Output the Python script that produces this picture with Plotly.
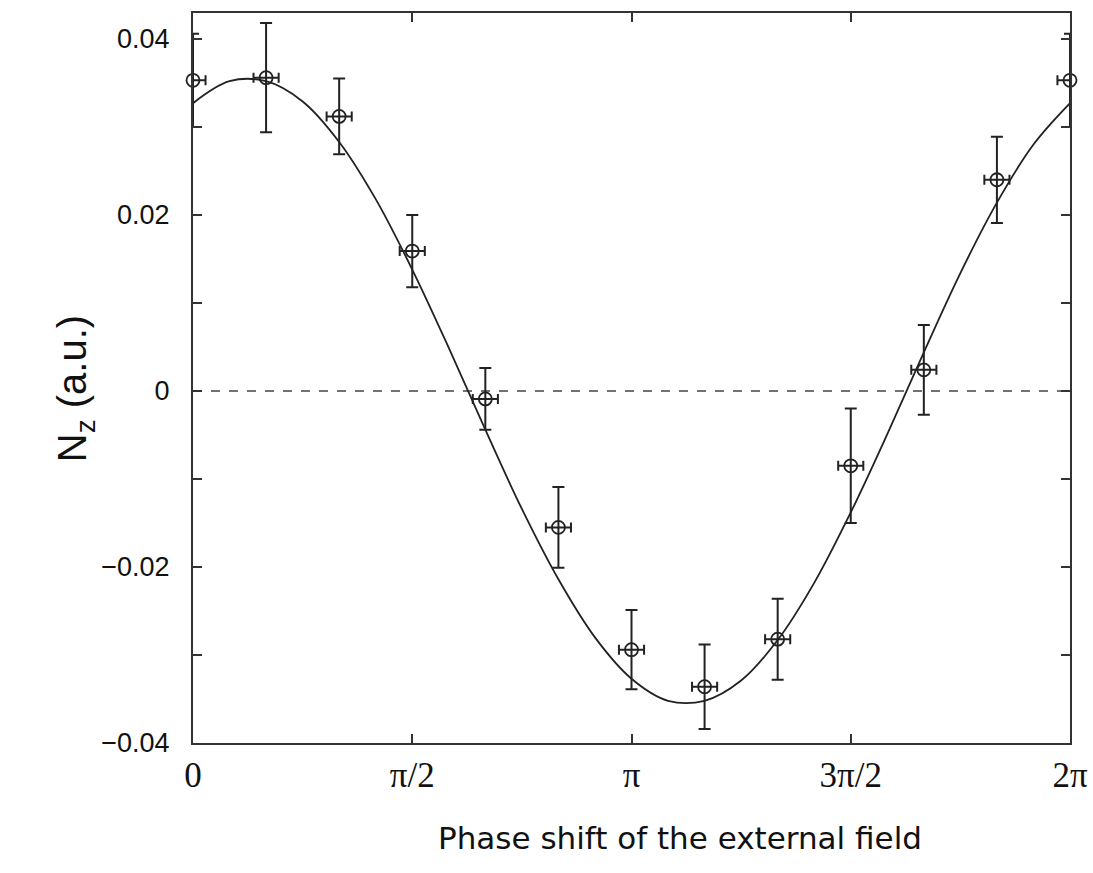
import math
import plotly.graph_objects as go

# ---- data ----
phase = [k * math.pi / 6 for k in range(13)]          # 0 .. 2π in π/6 steps
nz = [0.0353, 0.0356, 0.0312, 0.0159, -0.0009, -0.0155, -0.0294,
      -0.0336, -0.0282, -0.0085, 0.0024, 0.0240, 0.0353]
nz_err = [0.0053, 0.0062, 0.0043, 0.0041, 0.0035, 0.0046, 0.0045,
          0.0048, 0.0046, 0.0065, 0.0051, 0.0049, 0.0053]
phase_err = [0.09] * 13

# fit curve, every π/12
fit_x = [k * math.pi / 12 for k in range(25)]
fit_y = [0.0327, 0.0352, 0.0352, 0.0329, 0.0283, 0.0218, 0.0138, 0.0049,
         -0.0044, -0.0134, -0.0214, -0.0280, -0.0327, -0.0352, -0.0352,
         -0.0329, -0.0283, -0.0218, -0.0138, -0.0049, 0.0044, 0.0134,
         0.0214, 0.0280, 0.0327]

x_tickvals = [0, math.pi / 2, math.pi, 3 * math.pi / 2, 2 * math.pi]
x_ticktext = ["0", "π/2", "π", "3π/2", "2π"]
y_tickvals = [-0.04, -0.02, 0, 0.02, 0.04]
y_ticktext = ["−0.04", "−0.02", "0", "0.02", "0.04"]

fig = go.Figure()

# zero reference line
fig.add_trace(go.Scatter(
    x=[0, 2 * math.pi], y=[0, 0], mode="lines",
    line=dict(color="#444", width=1.5, dash="dash"),
    hoverinfo="skip", showlegend=False))

# fit curve
fig.add_trace(go.Scatter(
    x=fit_x, y=fit_y, mode="lines", line_shape="spline",
    line=dict(color="#222", width=1.8, smoothing=1.0), showlegend=False))

# data points with error bars
fig.add_trace(go.Scatter(
    x=phase, y=nz, mode="markers",
    marker=dict(symbol="circle-open", size=13, color="#222",
                line=dict(width=1.8, color="#222")),
    error_y=dict(type="data", array=nz_err, color="#222", thickness=2, width=6),
    error_x=dict(type="data", array=phase_err, color="#222", thickness=2, width=5),
    showlegend=False, cliponaxis=False))

axis_common = dict(showline=True, linecolor="#333", linewidth=2, mirror="ticks",
                   ticks="inside", ticklen=9, tickwidth=1.5, tickcolor="#333",
                   showgrid=False, zeroline=False, automargin=False)

fig.update_xaxes(range=[0, 2 * math.pi], tickvals=x_tickvals, ticktext=x_ticktext,
                 tickfont=dict(family="Liberation Serif", size=35, color="#111"),
                 ticklabelstandoff=0, **axis_common)
fig.update_yaxes(range=[-0.04, 0.04295], tickvals=y_tickvals, ticktext=y_ticktext,
                 tickfont=dict(family="Liberation Sans", size=27, color="#111"),
                 ticklabelstandoff=16,
                 minor=dict(ticks="inside", tickvals=[-0.03, -0.01, 0.01, 0.03],
                            ticklen=9, tickwidth=1.5, tickcolor="#333"),
                 **axis_common)

fig.add_annotation(text="N<sub>z</sub> (a.u.)", xref="paper", yref="paper",
                   x=-0.165, y=0.485, textangle=-90, showarrow=False,
                   font=dict(family="Liberation Sans", size=40, color="#111"))
fig.add_annotation(text="Phase shift of the external field", xref="paper", yref="paper",
                   x=0.555, y=-0.13, xanchor="center", yanchor="middle", showarrow=False,
                   font=dict(family="DejaVu Sans", size=31, color="#111"))

fig.update_layout(width=1093, height=873,
                  margin=dict(l=193, r=23, t=13, b=130),
                  paper_bgcolor="white", plot_bgcolor="white")

fig.write_html("out.html")
